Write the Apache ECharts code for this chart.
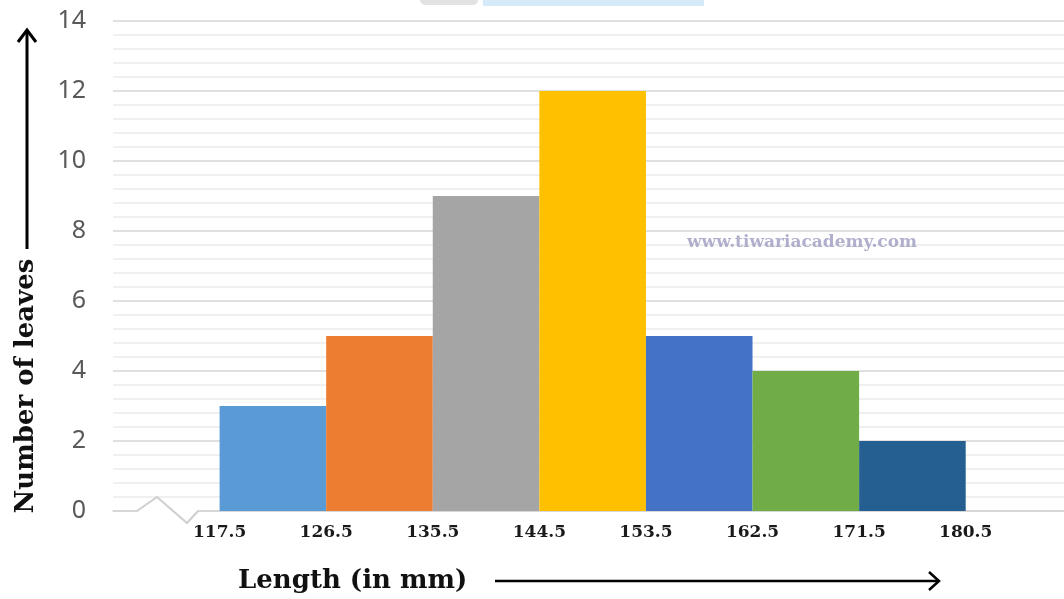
<!DOCTYPE html>
<html>
<head>
<meta charset="utf-8">
<title>Length of leaves</title>
<script src="https://cdn.jsdelivr.net/npm/echarts@6/dist/echarts.min.js"></script>
<style>
  html, body { margin: 0; padding: 0; background: #ffffff; }
  #chart { width: 1064px; height: 599px; }
</style>
</head>
<body>
<div id="chart"></div>
<script>
// Class boundaries (mm) and number of leaves in each class
const classEdges = [117.5, 126.5, 135.5, 144.5, 153.5, 162.5, 171.5, 180.5];
const leafCounts = [3, 5, 9, 12, 5, 4, 2];
const barColors = ['#5B9BD5', '#ED7D31', '#A5A5A5', '#FFC000', '#4472C4', '#70AD47', '#255E91'];
const yTitle = 'Number of leaves';
const xTitle = 'Length (in mm)';
const siteMark = 'www.tiwariacademy.com';

const chart = echarts.init(document.getElementById('chart'), null, { renderer: 'canvas' });

const histData = leafCounts.map((c, i) => [classEdges[i], classEdges[i + 1], c]);

const serifBold = '"DejaVu Serif", "Liberation Serif", serif';

chart.setOption({
  animation: false,
  backgroundColor: '#ffffff',
  grid: { left: 113, right: 0, top: 21, bottom: 88, containLabel: false },
  xAxis: {
    type: 'value',
    min: 108.5,
    max: 188.8,
    axisLine: { show: true, lineStyle: { color: '#d4d4d4', width: 1.5 } },
    axisTick: { show: false },
    splitLine: { show: false },
    axisLabel: {
      customValues: classEdges,
      formatter: v => v.toFixed(1),
      margin: 13,
      color: '#1a1a1a',
      fontFamily: serifBold,
      fontWeight: 'bold',
      fontSize: 17
    }
  },
  yAxis: {
    type: 'value',
    min: 0,
    max: 14,
    interval: 2,
    axisLine: { show: false },
    axisTick: { show: false },
    axisLabel: {
      margin: 27,
      color: '#595959',
      fontFamily: '"Noto Sans", sans-serif',
      fontSize: 25
    },
    splitLine: { show: true, lineStyle: { color: '#d6d6d6', width: 1.5 } },
    minorTick: { show: false, splitNumber: 5 },
    minorSplitLine: { show: true, lineStyle: { color: '#ececec', width: 1.5 } }
  },
  series: [{
    type: 'custom',
    data: histData,
    encode: { x: [0, 1], y: 2 },
    renderItem: function (params, api) {
      const p0 = api.coord([api.value(0), api.value(2)]);
      const p1 = api.coord([api.value(1), 0]);
      return {
        type: 'rect',
        shape: { x: p0[0], y: p0[1], width: p1[0] - p0[0], height: p1[1] - p0[1] },
        style: { fill: barColors[params.dataIndex] }
      };
    }
  }]
});

// Axis-break zigzag, arrows, titles and site mark, placed from the axis scales
function drawDecor() {
  const o = chart.convertToPixel({ gridIndex: 0 }, [108.5, 0]);
  const y0 = o[1];
  const xa = o[0];
  chart.setOption({
    graphic: [
      // gap in the axis line where the break sits
      { type: 'rect', shape: { x: xa + 25, y: y0 - 3, width: 59, height: 6 }, style: { fill: '#ffffff' }, z: 10 },
      {
        type: 'polyline', z: 11,
        shape: { points: [[xa + 24, y0], [xa + 44, y0 - 14], [xa + 74, y0 + 12], [xa + 85, y0]] },
        style: { stroke: '#cfcfcf', lineWidth: 2, fill: null }
      },
      // vertical arrow and title
      { type: 'line', shape: { x1: 27, y1: 249, x2: 27, y2: 30 }, style: { stroke: '#000', lineWidth: 3 }, z: 20 },
      { type: 'polyline', shape: { points: [[18, 42], [27, 30], [36, 42]] }, style: { stroke: '#000', lineWidth: 3, fill: null }, z: 20 },
      {
        type: 'text', x: 26, y: 386, rotation: Math.PI / 2, z: 20,
        style: {
          text: yTitle, fill: '#111', font: 'bold 26px ' + serifBold,
          align: 'center', verticalAlign: 'middle'
        }
      },
      // horizontal arrow and title
      {
        type: 'text', x: 238, y: 581, z: 20,
        style: {
          text: xTitle, fill: '#111', font: 'bold 26px ' + serifBold,
          align: 'left', verticalAlign: 'middle'
        }
      },
      { type: 'line', shape: { x1: 495, y1: 581, x2: 938, y2: 581 }, style: { stroke: '#000', lineWidth: 2.5 }, z: 20 },
      { type: 'polyline', shape: { points: [[929, 572], [939, 581], [929, 590]] }, style: { stroke: '#000', lineWidth: 2.5, fill: null }, z: 20 },
      // site mark
      {
        type: 'text', x: 802, y: 243, z: 20,
        style: {
          text: siteMark, fill: 'rgba(150,150,190,0.75)', font: 'bold 17px ' + serifBold,
          align: 'center', verticalAlign: 'middle'
        }
      },
      // header strip fragments at the top edge
      { type: 'rect', shape: { x: 420, y: -6, width: 58, height: 11, r: 5 }, style: { fill: '#e2e2e2' }, z: 5 },
      { type: 'rect', shape: { x: 483, y: 0, width: 221, height: 6 }, style: { fill: '#d6ebfa' }, z: 5 }
    ]
  });
}
drawDecor();
</script>
</body>
</html>
